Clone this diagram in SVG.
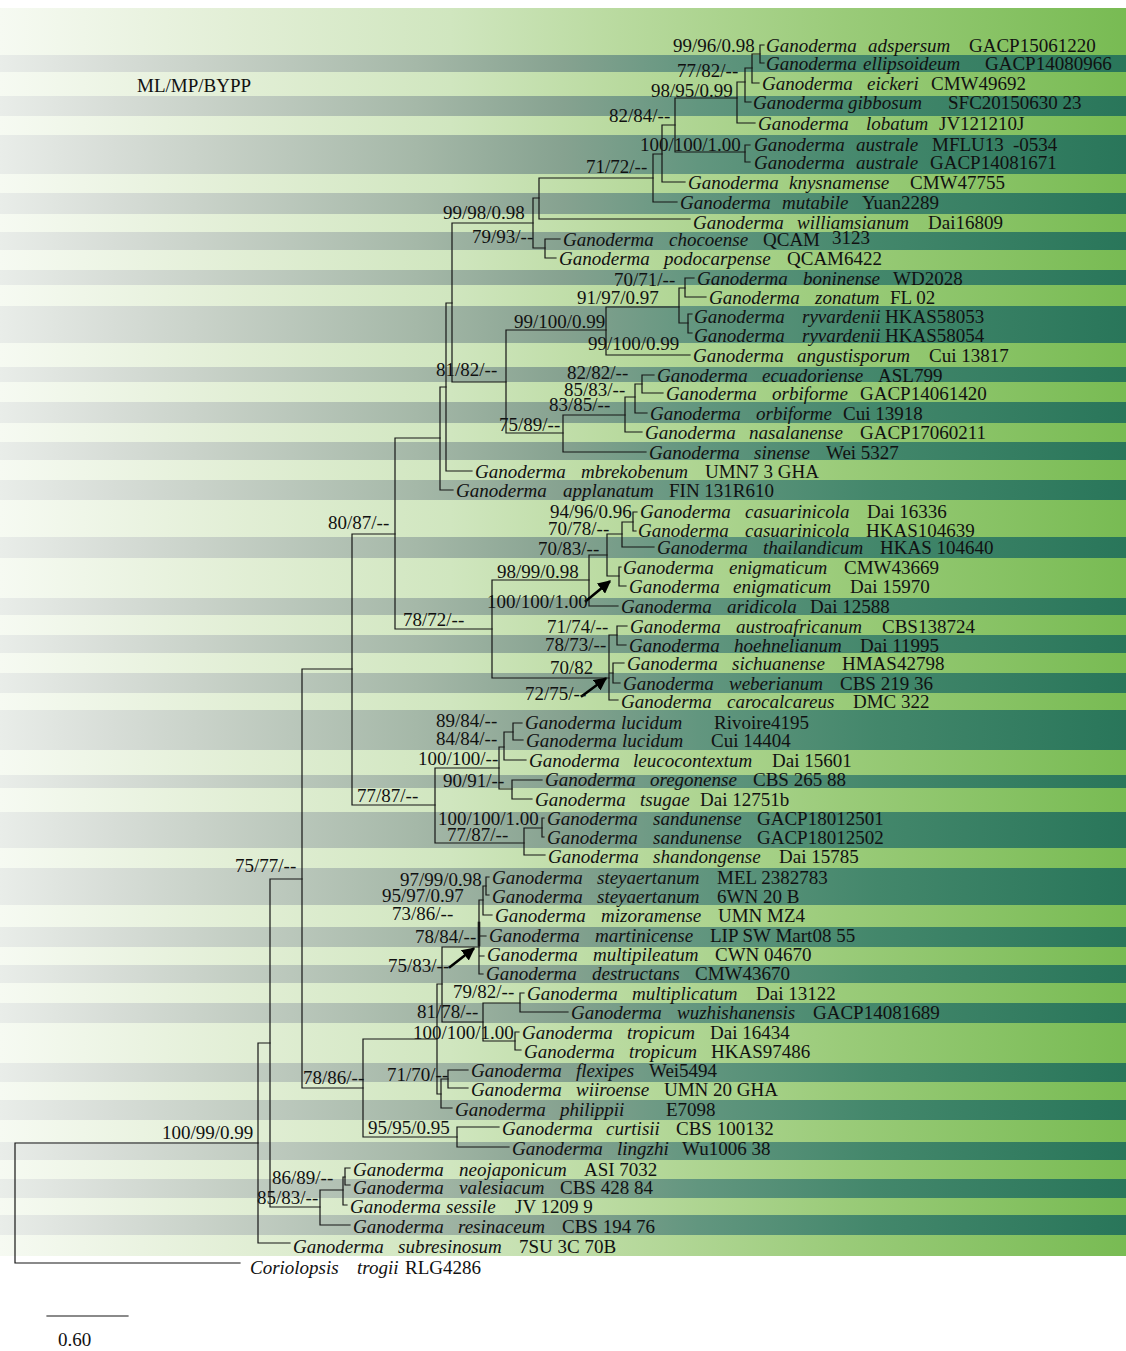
<svg xmlns="http://www.w3.org/2000/svg" width="1126" height="1351" viewBox="0 0 1126 1351">
<defs>
<linearGradient id="lightBand" gradientUnits="userSpaceOnUse" x1="0" y1="0" x2="1126" y2="0">
<stop offset="0" stop-color="#f6faf2"/>
<stop offset="0.2" stop-color="#e3efd7"/>
<stop offset="0.4" stop-color="#d0e6bf"/>
<stop offset="0.55" stop-color="#b9da9f"/>
<stop offset="0.75" stop-color="#9acb79"/>
<stop offset="1" stop-color="#78bb53"/>
</linearGradient>
<linearGradient id="darkBand" gradientUnits="userSpaceOnUse" x1="0" y1="0" x2="1126" y2="0">
<stop offset="0" stop-color="#e9ede9"/>
<stop offset="0.1" stop-color="#d7ddd7"/>
<stop offset="0.2" stop-color="#c5cfc5"/>
<stop offset="0.37" stop-color="#a5b8a8"/>
<stop offset="0.5" stop-color="#86a290"/>
<stop offset="0.62" stop-color="#62967f"/>
<stop offset="0.78" stop-color="#43876b"/>
<stop offset="1" stop-color="#29765a"/>
</linearGradient>
<marker id="arrowHead" viewBox="0 0 10 10" refX="8" refY="5" markerWidth="5" markerHeight="5" orient="auto" markerUnits="strokeWidth">
<path d="M0 0L10 5L0 10z" fill="#000"/>
</marker>
</defs>
<style>
text{font-family:"Liberation Serif","Times New Roman",serif;font-size:19px;fill:#111}
.i{font-style:italic}
.br{fill:none;stroke:#161616;stroke-width:1.2;stroke-linecap:square}
.arrow{fill:none;stroke:#000;stroke-width:2.6}
</style>
<rect width="1126" height="1351" fill="#fff"/>
<!-- striped background: light rows then darker rows on top -->
<g id="background">
<rect x="0" y="8" width="1126" height="1248" fill="url(#lightBand)"/>
<g fill="url(#darkBand)">
<rect x="0" y="55" width="1126" height="17"/>
<rect x="0" y="96" width="1126" height="20"/>
<rect x="0" y="135" width="1126" height="39"/>
<rect x="0" y="193" width="1126" height="21"/>
<rect x="0" y="232" width="1126" height="18"/>
<rect x="0" y="270" width="1126" height="15"/>
<rect x="0" y="306" width="1126" height="37"/>
<rect x="0" y="367" width="1126" height="15"/>
<rect x="0" y="402" width="1126" height="21"/>
<rect x="0" y="442" width="1126" height="18"/>
<rect x="0" y="480" width="1126" height="20"/>
<rect x="0" y="537" width="1126" height="21"/>
<rect x="0" y="598" width="1126" height="17"/>
<rect x="0" y="635" width="1126" height="18"/>
<rect x="0" y="673" width="1126" height="20"/>
<rect x="0" y="710" width="1126" height="40"/>
<rect x="0" y="775" width="1126" height="13"/>
<rect x="0" y="812" width="1126" height="36"/>
<rect x="0" y="868" width="1126" height="37"/>
<rect x="0" y="927" width="1126" height="20"/>
<rect x="0" y="965" width="1126" height="18"/>
<rect x="0" y="1003" width="1126" height="20"/>
<rect x="0" y="1063" width="1126" height="19"/>
<rect x="0" y="1100" width="1126" height="20"/>
<rect x="0" y="1142" width="1126" height="18"/>
<rect x="0" y="1179" width="1126" height="19"/>
<rect x="0" y="1215" width="1126" height="20"/>
</g>
</g>

<!-- tree branches -->
<g id="connectors" class="br">
<path d="M760 45V63M760 45H764M760 63H764"/>
<path d="M752 54V83M752 54H760M752 83H759"/>
<path d="M745 68V102M745 68H752M745 102H751"/>
<path d="M737 82V123M737 82H745M737 123H755"/>
<path d="M745 145V162M745 145H750M745 162H750"/>
<path d="M675 98V152M675 98H737M675 152H745"/>
<path d="M662 125V182M662 125H675M662 182H685"/>
<path d="M653 154V202M653 154H662M653 202H677"/>
<path d="M539 178V219M539 178H653M539 219H690"/>
<path d="M545 239V258M545 239H560M545 258H556"/>
<path d="M533 198V248M533 198H539M533 248H545"/>
<path d="M685 278V297M685 278H694M685 297H706"/>
<path d="M688 314V333M688 314H692M688 333H692"/>
<path d="M679 288V323M679 288H685M679 323H688"/>
<path d="M606 307V355M606 307H679M606 355H690"/>
<path d="M642 375V393M642 375H654M642 393H663"/>
<path d="M635 384V413M635 384H642M635 413H647"/>
<path d="M625 397V432M625 397H635M625 432H642"/>
<path d="M563 415V452M563 415H625M563 452H646"/>
<path d="M506 330V433M506 330H606M506 433H563"/>
<path d="M452 223V382M452 223H533M452 382H506"/>
<path d="M446 303V471M446 303H452M446 471H472"/>
<path d="M440 387V490M440 387H446M440 490H453"/>
<path d="M633 512V531M633 512H637M633 531H636"/>
<path d="M622 522V547M622 522H633M622 547H654"/>
<path d="M619 567V586M619 567H621M619 586H626"/>
<path d="M607 534V576M607 534H622M607 576H619"/>
<path d="M589 555V606M589 555H607M589 606H618"/>
<path d="M617 626V645M617 626H627M617 645H626"/>
<path d="M613 663V683M613 663H624M613 683H620"/>
<path d="M609 635V700M609 635H617M609 673H613M609 700H618"/>
<path d="M492 580V678M492 580H589M492 678H609"/>
<path d="M395 438V629M395 438H440M395 629H492"/>
<path d="M513 723V740M513 723H522M513 740H523"/>
<path d="M504 732V760M504 732H513M504 760H526"/>
<path d="M512 780V799M512 780H542M512 799H532"/>
<path d="M499 747V789M499 747H504M499 789H512"/>
<path d="M542 818V837M542 818H544M542 837H544"/>
<path d="M524 828V855M524 828H542M524 855H545"/>
<path d="M435 768V843M435 768H499M435 843H524"/>
<path d="M352 534V805M352 534H395M352 805H435"/>
<path d="M486 877V895M486 877H489M486 895H489"/>
<path d="M483 886V915M483 886H486M483 915H492"/>
<path d="M479 900V974M479 900H483M479 936H486M479 956H484M479 974H483"/>
<path d="M479 923V945" style="stroke-width:2.6"/>
<path d="M520 993V1012M520 993H524M520 1012H568"/>
<path d="M515 1032V1050M515 1032H519M515 1050H521"/>
<path d="M483 1003V1041M483 1003H520M483 1041H515"/>
<path d="M442 947V1022M442 947H479M442 1022H483"/>
<path d="M448 1070V1088M448 1070H468M448 1088H468"/>
<path d="M441 1079V1108M441 1079H448M441 1108H452"/>
<path d="M437 984V1094M437 984H442M437 1094H441"/>
<path d="M457 1127V1147M457 1127H499M457 1147H509"/>
<path d="M363 1039V1137M363 1039H437M363 1137H457"/>
<path d="M302 669V1088M302 669H352M302 1088H363"/>
<path d="M345 1168V1185M345 1168H350M345 1185H350"/>
<path d="M343 1177V1205M343 1177H345M343 1205H347"/>
<path d="M320 1190V1225M320 1190H343M320 1225H350"/>
<path d="M270 879V1207M270 879H302M270 1207H320"/>
<path d="M258 1043V1243M258 1043H270M258 1243H290"/>
<path d="M15 1143V1263M15 1143H258M15 1263H240"/>
<!-- pointer arrows to crowded nodes -->
<path class="arrow" d="M586 601L609 582" marker-end="url(#arrowHead)"/>
<path class="arrow" d="M582 696L605 679" marker-end="url(#arrowHead)"/>
<path class="arrow" d="M450 967L473 949" marker-end="url(#arrowHead)"/>
</g>

<!-- support values ML/MP/BYPP -->
<g id="support">
<text x="137" y="92">ML/MP/BYPP</text>
<text x="673" y="52">99/96/0.98</text>
<text x="677" y="77">77/82/--</text>
<text x="651" y="97">98/95/0.99</text>
<text x="609" y="122">82/84/--</text>
<text x="640" y="151">100/100/1.00</text>
<text x="586" y="173">71/72/--</text>
<text x="443" y="219">99/98/0.98</text>
<text x="472" y="243">79/93/--</text>
<text x="614" y="286">70/71/--</text>
<text x="577" y="304">91/97/0.97</text>
<text x="514" y="328">99/100/0.99</text>
<text x="588" y="350">99/100/0.99</text>
<text x="436" y="376">81/82/--</text>
<text x="567" y="379">82/82/--</text>
<text x="564" y="396">85/83/--</text>
<text x="549" y="411">83/85/--</text>
<text x="499" y="431">75/89/--</text>
<text x="328" y="529">80/87/--</text>
<text x="550" y="518">94/96/0.96</text>
<text x="548" y="535">70/78/--</text>
<text x="538" y="555">70/83/--</text>
<text x="497" y="578">98/99/0.98</text>
<text x="487" y="608">100/100/1.00</text>
<text x="403" y="626">78/72/--</text>
<text x="547" y="633">71/74/--</text>
<text x="545" y="651">78/73/--</text>
<text x="550" y="674">70/82</text>
<text x="525" y="700">72/75/--</text>
<text x="436" y="727">89/84/--</text>
<text x="436" y="745">84/84/--</text>
<text x="418" y="765">100/100/--</text>
<text x="443" y="787">90/91/--</text>
<text x="357" y="802">77/87/--</text>
<text x="438" y="825">100/100/1.00</text>
<text x="447" y="841">77/87/--</text>
<text x="235" y="872">75/77/--</text>
<text x="400" y="886">97/99/0.98</text>
<text x="382" y="902">95/97/0.97</text>
<text x="392" y="920">73/86/--</text>
<text x="415" y="943">78/84/--</text>
<text x="388" y="972">75/83/--</text>
<text x="453" y="998">79/82/--</text>
<text x="417" y="1018">81/78/--</text>
<text x="413" y="1039">100/100/1.00</text>
<text x="303" y="1084">78/86/--</text>
<text x="387" y="1081">71/70/--</text>
<text x="368" y="1134">95/95/0.95</text>
<text x="162" y="1139">100/99/0.99</text>
<text x="272" y="1184">86/89/--</text>
<text x="257" y="1204">85/83/--</text>
</g>

<!-- terminal taxa -->
<g id="taxa">
<g id="t01"><text y="52"><tspan class="i" x="766">Ganoderma </tspan><tspan class="i" x="868">adspersum </tspan><tspan x="969">GACP15061220</tspan></text></g>
<g id="t02"><text y="70"><tspan class="i" x="766">Ganoderma </tspan><tspan class="i" x="863">ellipsoideum </tspan><tspan x="985">GACP14080966</tspan></text></g>
<g id="t03"><text y="90"><tspan class="i" x="762">Ganoderma </tspan><tspan class="i" x="867">eickeri </tspan><tspan x="931">CMW49692</tspan></text></g>
<g id="t04"><text y="109"><tspan class="i" x="753">Ganoderma </tspan><tspan class="i" x="848">gibbosum </tspan><tspan x="948">SFC20150630 23</tspan></text></g>
<g id="t05"><text y="130"><tspan class="i" x="758">Ganoderma </tspan><tspan class="i" x="866">lobatum </tspan><tspan x="939">JV121210J</tspan></text></g>
<g id="t06"><text y="151"><tspan class="i" x="754">Ganoderma </tspan><tspan class="i" x="856">australe </tspan><tspan x="932">MFLU13 </tspan><tspan x="1013">-0534</tspan></text></g>
<g id="t07"><text y="169"><tspan class="i" x="754">Ganoderma </tspan><tspan class="i" x="856">australe </tspan><tspan x="930">GACP14081671</tspan></text></g>
<g id="t08"><text y="189"><tspan class="i" x="688">Ganoderma </tspan><tspan class="i" x="789">knysnamense </tspan><tspan x="910">CMW47755</tspan></text></g>
<g id="t09"><text y="209"><tspan class="i" x="680">Ganoderma </tspan><tspan class="i" x="782">mutabile </tspan><tspan x="862">Yuan2289</tspan></text></g>
<g id="t10"><text y="229"><tspan class="i" x="693">Ganoderma </tspan><tspan class="i" x="797">williamsianum </tspan><tspan x="928">Dai16809</tspan></text></g>
<g id="t11"><text y="246"><tspan class="i" x="563">Ganoderma </tspan><tspan class="i" x="669">chocoense </tspan><tspan x="763">QCAM </tspan><tspan x="832" dy="-2">3123</tspan></text></g>
<g id="t12"><text y="265"><tspan class="i" x="559">Ganoderma </tspan><tspan class="i" x="664">podocarpense </tspan><tspan x="787">QCAM6422</tspan></text></g>
<g id="t13"><text y="285"><tspan class="i" x="697">Ganoderma </tspan><tspan class="i" x="803">boninense </tspan><tspan x="893">WD2028</tspan></text></g>
<g id="t14"><text y="304"><tspan class="i" x="709">Ganoderma </tspan><tspan class="i" x="815">zonatum </tspan><tspan x="890">FL 02</tspan></text></g>
<g id="t15"><text y="323"><tspan class="i" x="694">Ganoderma </tspan><tspan class="i" x="802">ryvardenii </tspan><tspan x="885">HKAS58053</tspan></text></g>
<g id="t16"><text y="342"><tspan class="i" x="694">Ganoderma </tspan><tspan class="i" x="802">ryvardenii </tspan><tspan x="885">HKAS58054</tspan></text></g>
<g id="t17"><text y="362"><tspan class="i" x="693">Ganoderma </tspan><tspan class="i" x="797">angustisporum </tspan><tspan x="929">Cui 13817</tspan></text></g>
<g id="t18"><text y="382"><tspan class="i" x="657">Ganoderma </tspan><tspan class="i" x="762">ecuadoriense </tspan><tspan x="878">ASL799</tspan></text></g>
<g id="t19"><text y="400"><tspan class="i" x="666">Ganoderma </tspan><tspan class="i" x="772">orbiforme </tspan><tspan x="860">GACP14061420</tspan></text></g>
<g id="t20"><text y="420"><tspan class="i" x="650">Ganoderma </tspan><tspan class="i" x="756">orbiforme </tspan><tspan x="843">Cui 13918</tspan></text></g>
<g id="t21"><text y="439"><tspan class="i" x="645">Ganoderma </tspan><tspan class="i" x="749">nasalanense </tspan><tspan x="860">GACP17060211</tspan></text></g>
<g id="t22"><text y="459"><tspan class="i" x="649">Ganoderma </tspan><tspan class="i" x="754">sinense </tspan><tspan x="826">Wei 5327</tspan></text></g>
<g id="t23"><text y="478"><tspan class="i" x="475">Ganoderma </tspan><tspan class="i" x="581">mbrekobenum </tspan><tspan x="705">UMN7 3 GHA</tspan></text></g>
<g id="t24"><text y="497"><tspan class="i" x="456">Ganoderma </tspan><tspan class="i" x="563">applanatum </tspan><tspan x="669">FIN 131R610</tspan></text></g>
<g id="t25"><text y="518"><tspan class="i" x="640">Ganoderma </tspan><tspan class="i" x="745">casuarinicola </tspan><tspan x="867">Dai 16336</tspan></text></g>
<g id="t26"><text y="537"><tspan class="i" x="638">Ganoderma </tspan><tspan class="i" x="745">casuarinicola </tspan><tspan x="866">HKAS104639</tspan></text></g>
<g id="t27"><text y="554"><tspan class="i" x="657">Ganoderma </tspan><tspan class="i" x="763">thailandicum </tspan><tspan x="880">HKAS 104640</tspan></text></g>
<g id="t28"><text y="574"><tspan class="i" x="623">Ganoderma </tspan><tspan class="i" x="729">enigmaticum </tspan><tspan x="844">CMW43669</tspan></text></g>
<g id="t29"><text y="593"><tspan class="i" x="629">Ganoderma </tspan><tspan class="i" x="733">enigmaticum </tspan><tspan x="850">Dai 15970</tspan></text></g>
<g id="t30"><text y="613"><tspan class="i" x="621">Ganoderma </tspan><tspan class="i" x="727">aridicola </tspan><tspan x="810">Dai 12588</tspan></text></g>
<g id="t31"><text y="633"><tspan class="i" x="630">Ganoderma </tspan><tspan class="i" x="736">austroafricanum </tspan><tspan x="882">CBS138724</tspan></text></g>
<g id="t32"><text y="652"><tspan class="i" x="629">Ganoderma </tspan><tspan class="i" x="734">hoehnelianum </tspan><tspan x="860">Dai 11995</tspan></text></g>
<g id="t33"><text y="670"><tspan class="i" x="627">Ganoderma </tspan><tspan class="i" x="732">sichuanense </tspan><tspan x="842">HMAS42798</tspan></text></g>
<g id="t34"><text y="690"><tspan class="i" x="623">Ganoderma </tspan><tspan class="i" x="729">weberianum </tspan><tspan x="840">CBS 219 36</tspan></text></g>
<g id="t35"><text y="708"><tspan class="i" x="621">Ganoderma </tspan><tspan class="i" x="727">carocalcareus </tspan><tspan x="853">DMC 322</tspan></text></g>
<g id="t36"><text y="729"><tspan class="i" x="525">Ganoderma </tspan><tspan class="i" x="621">lucidum </tspan><tspan x="714">Rivoire4195</tspan></text></g>
<g id="t37"><text y="747"><tspan class="i" x="526">Ganoderma </tspan><tspan class="i" x="622">lucidum </tspan><tspan x="711">Cui 14404</tspan></text></g>
<g id="t38"><text y="767"><tspan class="i" x="529">Ganoderma </tspan><tspan class="i" x="633">leucocontextum </tspan><tspan x="772">Dai 15601</tspan></text></g>
<g id="t39"><text y="786"><tspan class="i" x="545">Ganoderma </tspan><tspan class="i" x="650">oregonense </tspan><tspan x="753">CBS 265 88</tspan></text></g>
<g id="t40"><text y="806"><tspan class="i" x="535">Ganoderma </tspan><tspan class="i" x="640">tsugae </tspan><tspan x="700">Dai 12751b</tspan></text></g>
<g id="t41"><text y="825"><tspan class="i" x="547">Ganoderma </tspan><tspan class="i" x="653">sandunense </tspan><tspan x="757">GACP18012501</tspan></text></g>
<g id="t42"><text y="844"><tspan class="i" x="547">Ganoderma </tspan><tspan class="i" x="653">sandunense </tspan><tspan x="757">GACP18012502</tspan></text></g>
<g id="t43"><text y="863"><tspan class="i" x="548">Ganoderma </tspan><tspan class="i" x="653">shandongense </tspan><tspan x="779">Dai 15785</tspan></text></g>
<g id="t44"><text y="884"><tspan class="i" x="492">Ganoderma </tspan><tspan class="i" x="597">steyaertanum </tspan><tspan x="717">MEL 2382783</tspan></text></g>
<g id="t45"><text y="903"><tspan class="i" x="492">Ganoderma </tspan><tspan class="i" x="597">steyaertanum </tspan><tspan x="717">6WN 20 B</tspan></text></g>
<g id="t46"><text y="922"><tspan class="i" x="495">Ganoderma </tspan><tspan class="i" x="601">mizoramense </tspan><tspan x="718">UMN MZ4</tspan></text></g>
<g id="t47"><text y="942"><tspan class="i" x="489">Ganoderma </tspan><tspan class="i" x="595">martinicense </tspan><tspan x="710">LIP SW Mart08 55</tspan></text></g>
<g id="t48"><text y="961"><tspan class="i" x="487">Ganoderma </tspan><tspan class="i" x="593">multipileatum </tspan><tspan x="715">CWN 04670</tspan></text></g>
<g id="t49"><text y="980"><tspan class="i" x="486">Ganoderma </tspan><tspan class="i" x="592">destructans </tspan><tspan x="695">CMW43670</tspan></text></g>
<g id="t50"><text y="1000"><tspan class="i" x="527">Ganoderma </tspan><tspan class="i" x="632">multiplicatum </tspan><tspan x="756">Dai 13122</tspan></text></g>
<g id="t51"><text y="1019"><tspan class="i" x="571">Ganoderma </tspan><tspan class="i" x="677">wuzhishanensis </tspan><tspan x="813">GACP14081689</tspan></text></g>
<g id="t52"><text y="1039"><tspan class="i" x="522">Ganoderma </tspan><tspan class="i" x="627">tropicum </tspan><tspan x="710">Dai 16434</tspan></text></g>
<g id="t53"><text y="1058"><tspan class="i" x="524">Ganoderma </tspan><tspan class="i" x="629">tropicum </tspan><tspan x="711">HKAS97486</tspan></text></g>
<g id="t54"><text y="1077"><tspan class="i" x="471">Ganoderma </tspan><tspan class="i" x="576">flexipes </tspan><tspan x="649">Wei5494</tspan></text></g>
<g id="t55"><text y="1096"><tspan class="i" x="471">Ganoderma </tspan><tspan class="i" x="576">wiiroense </tspan><tspan x="664">UMN 20 GHA</tspan></text></g>
<g id="t56"><text y="1116"><tspan class="i" x="455">Ganoderma </tspan><tspan class="i" x="560">philippii </tspan><tspan x="666">E7098</tspan></text></g>
<g id="t57"><text y="1135"><tspan class="i" x="502">Ganoderma </tspan><tspan class="i" x="606">curtisii </tspan><tspan x="676">CBS 100132</tspan></text></g>
<g id="t58"><text y="1155"><tspan class="i" x="512">Ganoderma </tspan><tspan class="i" x="617">lingzhi </tspan><tspan x="682">Wu1006 38</tspan></text></g>
<g id="t59"><text y="1176"><tspan class="i" x="353">Ganoderma </tspan><tspan class="i" x="459">neojaponicum </tspan><tspan x="584">ASI 7032</tspan></text></g>
<g id="t60"><text y="1194"><tspan class="i" x="353">Ganoderma </tspan><tspan class="i" x="459">valesiacum </tspan><tspan x="560">CBS 428 84</tspan></text></g>
<g id="t61"><text y="1213"><tspan class="i" x="350">Ganoderma </tspan><tspan class="i" x="446">sessile </tspan><tspan x="515">JV 1209 9</tspan></text></g>
<g id="t62"><text y="1233"><tspan class="i" x="353">Ganoderma </tspan><tspan class="i" x="458">resinaceum </tspan><tspan x="562">CBS 194 76</tspan></text></g>
<g id="t63"><text y="1253"><tspan class="i" x="293">Ganoderma </tspan><tspan class="i" x="398">subresinosum </tspan><tspan x="519">7SU 3C 70B</tspan></text></g>
<g id="t64"><text y="1274"><tspan class="i" x="250">Coriolopsis </tspan><tspan class="i" x="357">trogii </tspan><tspan x="405">RLG4286</tspan></text></g>
</g>

<!-- scale bar -->
<g id="scale">
<path class="br" d="M47 1316H128"/>
<text x="58" y="1346">0.60</text>
</g>
</svg>
